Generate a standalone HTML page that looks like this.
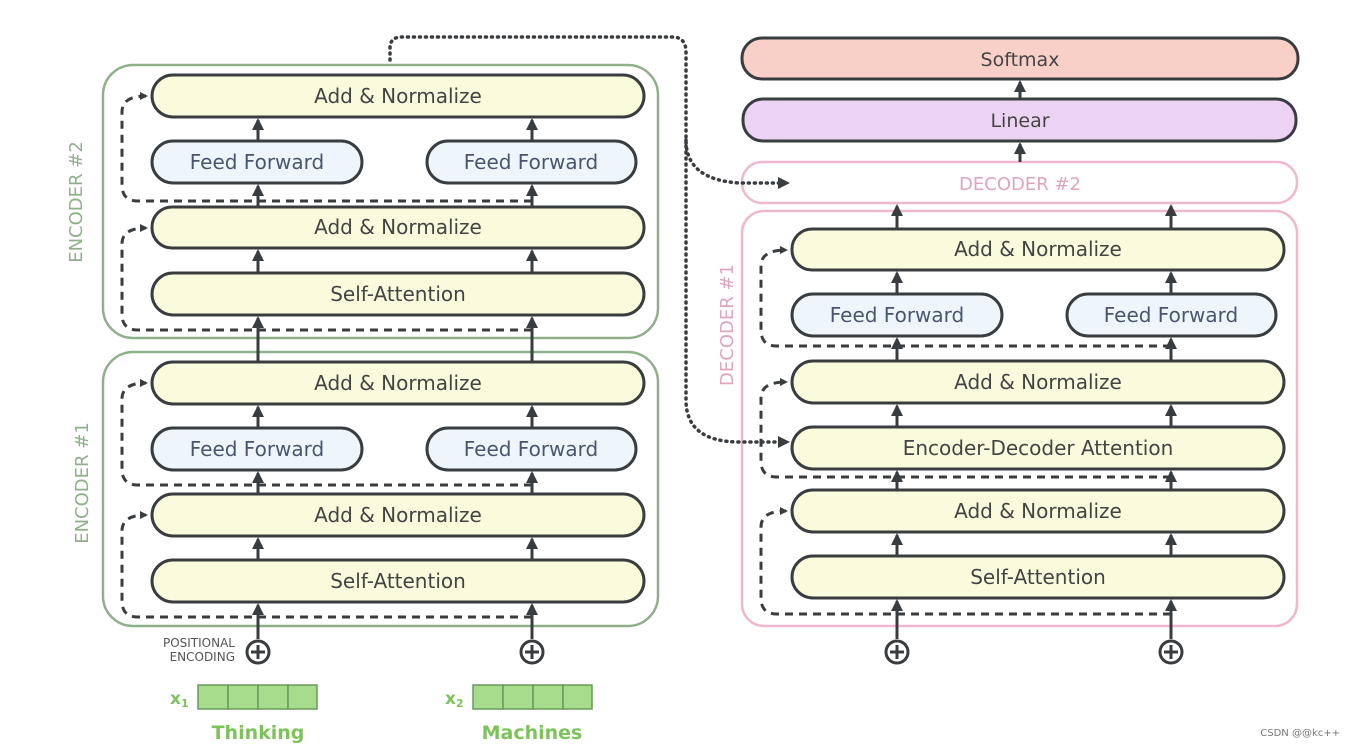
<!DOCTYPE html>
<html><head><style>
html,body{margin:0;padding:0;background:#fff;}
svg{display:block;}
text{font-family:"DejaVu Sans","Liberation Sans",sans-serif;}
</style></head><body>
<svg width="1356" height="745" viewBox="0 0 1356 745" xmlns="http://www.w3.org/2000/svg">
<defs>
<marker id="a" markerWidth="8" markerHeight="8" refX="6" refY="4" orient="auto" markerUnits="userSpaceOnUse" viewBox="0 0 8 8"><path d="M0,0 L8,4 L0,8 Z" fill="#3a3d40"/></marker>
<marker id="b" markerWidth="12" markerHeight="12" refX="10" refY="6" orient="auto" markerUnits="userSpaceOnUse" viewBox="0 0 12 12"><path d="M0,0 L12,6 L0,12 Z" fill="#3a3d40"/></marker>
</defs>
<rect width="1356" height="745" fill="#fff"/>

<rect x="103" y="65" width="555" height="273" rx="30" fill="none" stroke="#8fb08a" stroke-width="2.5"/>
<rect x="103" y="352" width="555" height="274" rx="30" fill="none" stroke="#8fb08a" stroke-width="2.5"/>
<text transform="translate(82,202) rotate(-90)" text-anchor="middle" font-size="18" fill="#8fb08a">ENCODER #2</text>
<text transform="translate(88,483) rotate(-90)" text-anchor="middle" font-size="18" fill="#8fb08a">ENCODER #1</text>

<rect x="742" y="38" width="556" height="41" rx="20" fill="#f9d0c8" stroke="#3a3d40" stroke-width="3"/>
<text x="1020" y="66" text-anchor="middle" font-size="19" fill="#444">Softmax</text>
<rect x="743" y="99" width="553" height="42" rx="20" fill="#ecd3f3" stroke="#3a3d40" stroke-width="3"/>
<text x="1020" y="127" text-anchor="middle" font-size="19" fill="#444">Linear</text>
<rect x="742" y="162" width="555" height="41" rx="20" fill="#fff" stroke="#f0b8cf" stroke-width="2.5"/>
<text x="1020" y="190" text-anchor="middle" font-size="18" fill="#e0a4bf">DECODER #2</text>
<rect x="742" y="211" width="555" height="415" rx="22" fill="none" stroke="#f0b8cf" stroke-width="2.5"/>
<text transform="translate(733,325) rotate(-90)" text-anchor="middle" font-size="18" fill="#e0a4bf">DECODER #1</text>

<g stroke="#3a3d40" stroke-width="3">
<rect x="152" y="75" width="492" height="42" rx="21" fill="#fafadc"/>
<rect x="152" y="141" width="210" height="42" rx="21" fill="#eef5fb"/>
<rect x="427" y="141" width="209" height="42" rx="21" fill="#eef5fb"/>
<rect x="152" y="207" width="492" height="41" rx="20" fill="#fafadc"/>
<rect x="152" y="273" width="492" height="42" rx="21" fill="#fafadc"/>
<rect x="152" y="362" width="492" height="42" rx="21" fill="#fafadc"/>
<rect x="152" y="428" width="210" height="42" rx="21" fill="#eef5fb"/>
<rect x="427" y="428" width="209" height="42" rx="21" fill="#eef5fb"/>
<rect x="152" y="494" width="492" height="42" rx="21" fill="#fafadc"/>
<rect x="152" y="560" width="492" height="42" rx="21" fill="#fafadc"/>
<rect x="792" y="229" width="492" height="41" rx="20" fill="#fafadc"/>
<rect x="792" y="294" width="210" height="42" rx="21" fill="#eef5fb"/>
<rect x="1067" y="294" width="209" height="42" rx="21" fill="#eef5fb"/>
<rect x="792" y="361" width="492" height="42" rx="21" fill="#fafadc"/>
<rect x="792" y="427" width="492" height="42" rx="21" fill="#fafadc"/>
<rect x="792" y="490" width="492" height="42" rx="21" fill="#fafadc"/>
<rect x="792" y="556" width="492" height="42" rx="21" fill="#fafadc"/>
</g>

<g font-size="20" text-anchor="middle" fill="#444">
<text x="398" y="103">Add &amp; Normalize</text>
<text x="257" y="169" fill="#4a5670">Feed Forward</text>
<text x="531" y="169" fill="#4a5670">Feed Forward</text>
<text x="398" y="234">Add &amp; Normalize</text>
<text x="398" y="301">Self-Attention</text>
<text x="398" y="390">Add &amp; Normalize</text>
<text x="257" y="456" fill="#4a5670">Feed Forward</text>
<text x="531" y="456" fill="#4a5670">Feed Forward</text>
<text x="398" y="522">Add &amp; Normalize</text>
<text x="398" y="588">Self-Attention</text>
<text x="1038" y="256">Add &amp; Normalize</text>
<text x="897" y="322" fill="#4a5670">Feed Forward</text>
<text x="1171" y="322" fill="#4a5670">Feed Forward</text>
<text x="1038" y="389">Add &amp; Normalize</text>
<text x="1038" y="455">Encoder-Decoder Attention</text>
<text x="1038" y="518">Add &amp; Normalize</text>
<text x="1038" y="584">Self-Attention</text>
</g>

<g stroke="#3a3d40" stroke-width="3" marker-end="url(#b)">
<line x1="258" y1="141" x2="258" y2="120"/><line x1="532" y1="141" x2="532" y2="120"/>
<line x1="258" y1="207" x2="258" y2="186"/><line x1="532" y1="207" x2="532" y2="186"/>
<line x1="258" y1="273" x2="258" y2="251"/><line x1="532" y1="273" x2="532" y2="251"/>
<line x1="258" y1="362" x2="258" y2="318"/><line x1="532" y1="362" x2="532" y2="318"/>
<line x1="258" y1="428" x2="258" y2="407"/><line x1="532" y1="428" x2="532" y2="407"/>
<line x1="258" y1="494" x2="258" y2="473"/><line x1="532" y1="494" x2="532" y2="473"/>
<line x1="258" y1="560" x2="258" y2="539"/><line x1="532" y1="560" x2="532" y2="539"/>
<line x1="258" y1="639" x2="258" y2="605"/><line x1="532" y1="639" x2="532" y2="605"/>
<line x1="1020" y1="99" x2="1020" y2="82"/><line x1="1020" y1="162" x2="1020" y2="144"/>
<line x1="897" y1="229" x2="897" y2="206"/><line x1="1171" y1="229" x2="1171" y2="206"/>
<line x1="897" y1="294" x2="897" y2="273"/><line x1="1171" y1="294" x2="1171" y2="273"/>
<line x1="897" y1="361" x2="897" y2="339"/><line x1="1171" y1="361" x2="1171" y2="339"/>
<line x1="897" y1="427" x2="897" y2="406"/><line x1="1171" y1="427" x2="1171" y2="406"/>
<line x1="897" y1="490" x2="897" y2="472"/><line x1="1171" y1="490" x2="1171" y2="472"/>
<line x1="897" y1="556" x2="897" y2="535"/><line x1="1171" y1="556" x2="1171" y2="535"/>
<line x1="897" y1="639" x2="897" y2="601"/><line x1="1171" y1="639" x2="1171" y2="601"/>
</g>

<g fill="none" stroke="#3a3d40" stroke-width="3" stroke-dasharray="8,6" marker-end="url(#a)">
<path d="M532,330 H138 Q122,330 122,314 V244 Q122,228 146,228"/>
<path d="M532,201 H138 Q122,201 122,185 V112 Q122,96 146,96"/>
<path d="M532,617 H138 Q122,617 122,601 V531 Q122,515 146,515"/>
<path d="M532,485 H138 Q122,485 122,469 V399 Q122,383 146,383"/>
<path d="M1171,614 H777 Q761,614 761,598 V527 Q761,511 786,511"/>
<path d="M1171,477 H777 Q761,477 761,461 V398 Q761,382 786,382"/>
<path d="M1171,346 H777 Q761,346 761,330 V266 Q761,250 786,250"/>
</g>

<g fill="none" stroke="#3a3d40" stroke-width="3.5" stroke-dasharray="1,5" stroke-linecap="round">
<path d="M390,60 V48 Q390,37 402,37 H672 Q686,37 686,52 V140 Q686,180 740,183 H780"/>
<path d="M686,140 V400 Q686,442 740,442 H780"/>
</g>
<path d="M778,177 L790,183 L778,189 Z" fill="#3a3d40"/>
<path d="M778,436 L790,442 L778,448 Z" fill="#3a3d40"/>

<g fill="#fff" stroke="#3a3d40" stroke-width="3">
<circle cx="258" cy="652" r="11"/><circle cx="532" cy="652" r="11"/>
<circle cx="897" cy="652" r="11"/><circle cx="1171" cy="652" r="11"/>
</g>
<g stroke="#3a3d40" stroke-width="3">
<path d="M251,652 H265 M258,645 V659"/><path d="M525,652 H539 M532,645 V659"/>
<path d="M890,652 H904 M897,645 V659"/><path d="M1164,652 H1178 M1171,645 V659"/>
</g>

<text x="235" y="647" text-anchor="end" font-size="12" fill="#555">POSITIONAL</text>
<text x="235" y="661" text-anchor="end" font-size="12" fill="#555">ENCODING</text>

<g fill="#a6dc8c" stroke="#6a9a5a" stroke-width="1.5">
<rect x="198" y="685" width="30" height="24"/><rect x="228" y="685" width="30" height="24"/><rect x="258" y="685" width="30" height="24"/><rect x="288" y="685" width="29" height="24"/>
<rect x="473" y="685" width="30" height="24"/><rect x="503" y="685" width="30" height="24"/><rect x="533" y="685" width="30" height="24"/><rect x="563" y="685" width="29" height="24"/>
</g>
<g fill="#7cc45a" font-weight="bold">
<text x="170" y="704" font-size="17">x<tspan font-size="11" dy="3">1</tspan></text>
<text x="445" y="704" font-size="17">x<tspan font-size="11" dy="3">2</tspan></text>
<text x="258" y="739" font-size="19" text-anchor="middle">Thinking</text>
<text x="532" y="739" font-size="19" text-anchor="middle">Machines</text>
</g>
<text x="1340" y="736" text-anchor="end" font-size="10" fill="#777">CSDN @@kc++</text>
</svg>
</body></html>
